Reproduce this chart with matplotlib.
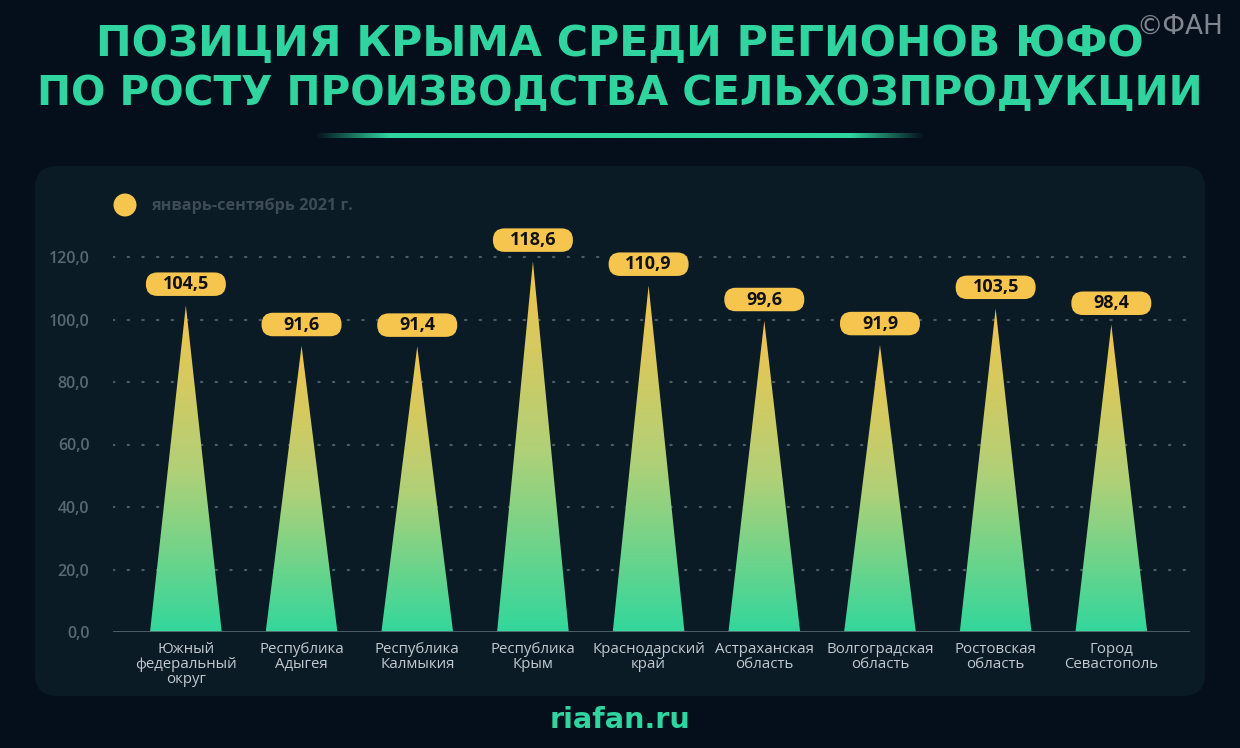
import numpy as np
import matplotlib
matplotlib.use("Agg")
import matplotlib.pyplot as plt
from matplotlib.patches import FancyBboxPatch, Polygon, Circle
from matplotlib.colors import LinearSegmentedColormap
import matplotlib.transforms as mtrans

# ---- data ----
categories = ["Южный\nфедеральный\nокруг", "Республика\nАдыгея", "Республика\nКалмыкия",
              "Республика\nКрым", "Краснодарский\nкрай", "Астраханская\nобласть",
              "Волгоградская\nобласть", "Ростовская\nобласть", "Город\nСевастополь"]
values = [104.5, 91.6, 91.4, 118.6, 110.9, 99.6, 91.9, 103.5, 98.4]
value_labels = ["104,5", "91,6", "91,4", "118,6", "110,9", "99,6", "91,9", "103,5", "98,4"]
yticks = [0, 20, 40, 60, 80, 100, 120]
ytick_labels = ["0,0", "20,0", "40,0", "60,0", "80,0", "100,0", "120,0"]
legend_label = "январь-сентябрь 2021 г."
title_lines = ["ПОЗИЦИЯ КРЫМА СРЕДИ РЕГИОНОВ ЮФО", "ПО РОСТУ ПРОИЗВОДСТВА СЕЛЬХОЗПРОДУКЦИИ"]
source = "riafan.ru"
watermark = "©ФАН"

# ---- style ----
BG = "#050f1b"
PANEL = "#0a1b26"
TEAL = "#2fd49f"
YELLOW = "#f5c54e"
GRID = "#4c5b66"
TICK = "#5a6871"
XLAB = "#c3c9ce"
FONT = "Open Sans"
TFONT = "DejaVu Sans"

W, H = 1240, 748
fig = plt.figure(figsize=(W / 100, H / 100), dpi=100, facecolor=BG)
renderer = fig.canvas.get_renderer()

bg = fig.add_axes([0, 0, 1, 1])
bg.set_xlim(0, W)
bg.set_ylim(H, 0)
bg.axis("off")
bg.set_facecolor(BG)


def fit_text(x, y, s, width_px, **kw):
    t = bg.text(x, y, s, fontsize=20, **kw)
    w = t.get_window_extent(renderer).width
    t.set_fontsize(20 * width_px / w)
    return t


panel = FancyBboxPatch((35, 166), 1170, 530, boxstyle="round,pad=0,rounding_size=22",
                       fc=PANEL, ec="none", zorder=1)
bg.add_patch(panel)

fit_text(620, 44, title_lines[0], 1046, ha="center", va="center", color=TEAL,
         fontweight="bold", family=TFONT, zorder=3)
fit_text(620, 94, title_lines[1], 1160, ha="center", va="center", color=TEAL,
         fontweight="bold", family=TFONT, zorder=3)

# gradient underline
n = 400
line = np.zeros((1, n, 4))
rgb = matplotlib.colors.to_rgb(TEAL)
line[..., 0], line[..., 1], line[..., 2] = rgb
t = np.linspace(0, 1, n)
line[0, :, 3] = np.clip(np.minimum(t, 1 - t) / 0.12, 0, 1)
bg.imshow(line, extent=(315, 925, 137.5, 132.5), aspect="auto", zorder=3, interpolation="bilinear")

bg.text(1180, 27, watermark, ha="center", va="center", color="#b5babf", alpha=0.7,
        fontsize=19, family="DejaVu Sans", zorder=4)

bg.add_patch(Circle((125, 205), 11.5, fc=YELLOW, ec="none", zorder=3))
fit_text(151, 206, legend_label, 201, ha="left", va="center", color="#3d4b56",
         fontweight="bold", family=FONT, zorder=3)

fit_text(620, 720, source, 141, ha="center", va="center", color=TEAL,
         fontweight="bold", family=TFONT, zorder=3)

# ---- chart axes ----
x0, x1 = 113, 1190
ypix0 = 632
ppu = 3.125
ymax = 126
ytop = ypix0 - ymax * ppu
ax = fig.add_axes([x0 / W, (H - ypix0) / H, (x1 - x0) / W, (ypix0 - ytop) / H])
ax.set_facecolor("none")
for s in ax.spines.values():
    s.set_visible(False)

for yv in yticks[1:]:
    ax.axhline(yv, color=GRID, lw=1.6, ls=(0, (0.6, 6)), dash_capstyle="round", zorder=1)
ax.axhline(0, color="#55626c", lw=2, zorder=4)

ax.set_yticks(yticks)
ax.set_yticklabels(ytick_labels, color=TICK, fontsize=11.5, family=FONT, fontweight="semibold")
xs = np.arange(len(values))
ax.set_xticks(xs)
ax.set_xticklabels(categories, color=XLAB, fontsize=10.8, family=FONT, linespacing=1.0)
ax.tick_params(axis="both", length=0)
ax.tick_params(axis="y", pad=17)
ax.tick_params(axis="x", pad=7)

cmap = LinearSegmentedColormap.from_list("g", ["#33d79c", "#b2d077", "#f3c44c"])
grad = np.linspace(0, 1, 256).reshape(-1, 1)
hw = 0.31
for x, v, lab in zip(xs, values, value_labels):
    tri = Polygon([(x - hw, 0), (x + hw, 0), (x, v)], closed=True, fc="none", ec="none")
    ax.add_patch(tri)
    im = ax.imshow(grad, extent=(x - hw, x + hw, 0, v), origin="lower", cmap=cmap,
                   aspect="auto", zorder=2, interpolation="bilinear")
    im.set_clip_path(tri)
    tr = fig.dpi_scale_trans + mtrans.ScaledTranslation(x, v, ax.transData)
    box = FancyBboxPatch((-0.40, 0.095), 0.80, 0.235, boxstyle="round,pad=0,rounding_size=0.115",
                         fc=YELLOW, ec="none", transform=tr, zorder=5, clip_on=False)
    ax.add_patch(box)
    ax.text(0, 0.2125, lab, transform=tr, ha="center", va="center", color="#111111",
            fontsize=13, fontweight="bold", family=FONT, zorder=6, clip_on=False)

ax.set_xlim(-0.63, 8.68)
ax.set_ylim(0, ymax)

fig.savefig("out.png", dpi=100, facecolor=BG)
